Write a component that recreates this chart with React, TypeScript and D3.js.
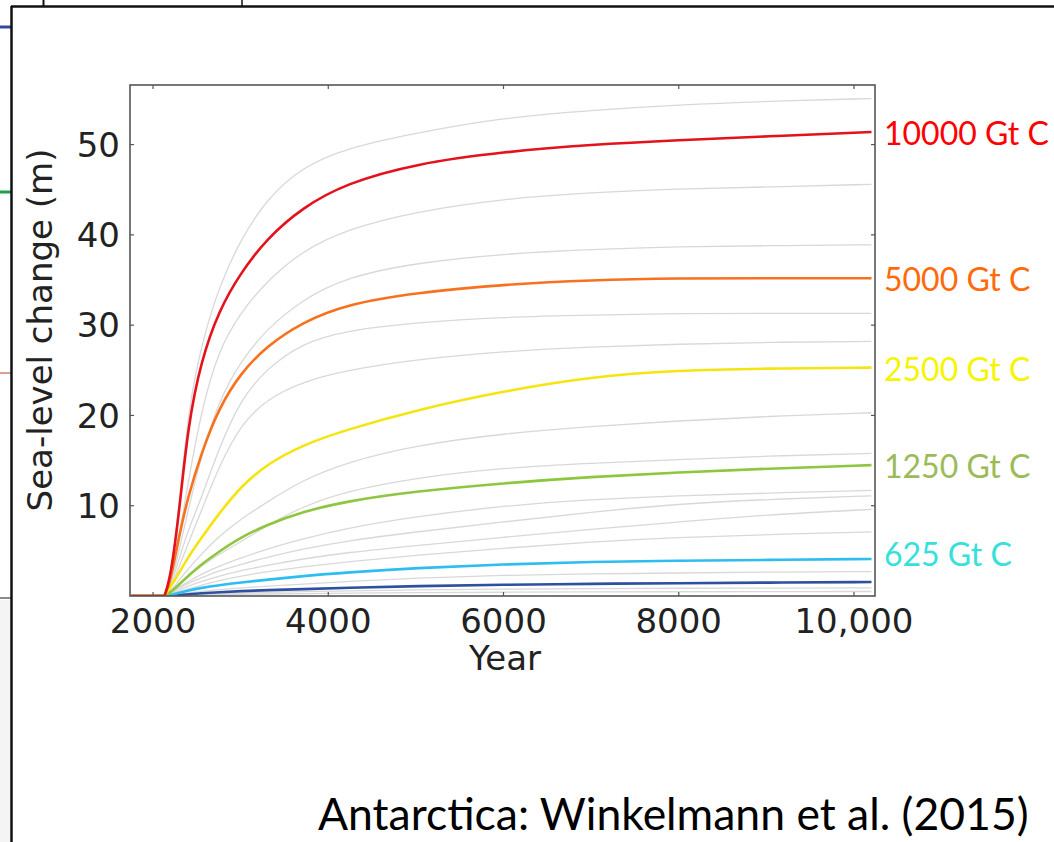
import React from 'react';
import * as d3 from 'd3';

const years = [1750, 2130, 2200, 2300, 2400, 2550, 2750, 3000, 3300, 3700, 4200, 5000, 6000, 7000, 8000, 9000, 10200];

// highlighted emission scenarios (sea-level change, m)
const red10000 = [0, 0, 2.0, 9.4, 19.0, 26.1, 31.6, 35.8, 39.6, 43.0, 45.7, 47.9, 49.2, 50.0, 50.5, 50.9, 51.4];
const orange5000 = [0, 0, 1.6, 6.8, 11.0, 15.8, 20.8, 24.7, 27.7, 30.3, 32.3, 33.6, 34.5, 35.0, 35.2, 35.2, 35.2];
const yellow2500 = [0, 0, 1.0, 2.6, 4.3, 6.4, 9.1, 12.1, 14.6, 16.7, 18.4, 20.6, 22.7, 24.3, 25.0, 25.2, 25.3];
const green1250 = [0, 0, 0.4, 1.3, 2.2, 3.5, 4.9, 6.5, 7.9, 9.3, 10.5, 11.6, 12.5, 13.2, 13.7, 14.1, 14.5];
const cyan625 = [0, 0, 0.1, 0.35, 0.6, 0.9, 1.2, 1.5, 1.8, 2.2, 2.6, 3.1, 3.5, 3.8, 3.9, 4.0, 4.1];
const blueLow = [0, 0, 0.05, 0.1, 0.2, 0.3, 0.4, 0.55, 0.65, 0.75, 0.9, 1.1, 1.25, 1.35, 1.42, 1.48, 1.55];

// the other runs, drawn in light grey
const grayRuns = [
  [0, 0, 2.2, 10.2, 20.5, 27.8, 34.2, 39.5, 44.0, 47.5, 49.6, 51.3, 53.0, 53.8, 54.4, 54.8, 55.1],
  [0, 0, 1.4, 6.8, 12.5, 20.5, 27.3, 31.4, 34.9, 38.2, 40.6, 42.6, 44.0, 44.7, 45.1, 45.3, 45.6],
  [0, 0, 1.1, 5.2, 9.5, 15.5, 21.6, 26.0, 29.6, 32.8, 35.3, 36.9, 37.9, 38.4, 38.7, 38.8, 38.9],
  [0, 0, 1.0, 4.2, 7.3, 10.8, 16.3, 21.8, 25.2, 28.0, 29.4, 30.3, 30.9, 31.1, 31.3, 31.3, 31.3],
  [0, 0, 0.8, 3.3, 5.8, 9.4, 14.3, 19.0, 21.8, 23.7, 25.0, 26.2, 27.1, 27.6, 27.9, 28.1, 28.2],
  [0, 0, 0.5, 1.8, 3.0, 4.6, 6.6, 8.5, 10.4, 12.8, 14.8, 16.7, 18.0, 18.8, 19.4, 19.9, 20.3],
  [0, 0, 0.4, 1.3, 2.2, 3.3, 4.6, 6.0, 7.8, 9.9, 11.6, 13.1, 14.2, 14.7, 15.1, 15.5, 15.8],
  [0, 0, 0.3, 1.0, 1.6, 2.4, 3.3, 4.2, 5.2, 6.3, 7.5, 8.8, 10.0, 10.7, 11.1, 11.4, 11.7],
  [0, 0, 0.3, 0.9, 1.4, 2.0, 2.8, 3.5, 4.3, 5.2, 6.1, 7.1, 8.2, 9.3, 10.2, 10.7, 11.1],
  [0, 0, 0.2, 0.7, 1.1, 1.6, 2.2, 2.8, 3.4, 4.1, 4.8, 5.6, 6.5, 7.4, 8.2, 9.0, 9.6],
  [0, 0, 0.2, 0.5, 0.8, 1.2, 1.7, 2.2, 2.7, 3.2, 3.8, 4.5, 5.3, 6.0, 6.5, 6.8, 7.1],
  [0, 0, 0.1, 0.2, 0.35, 0.5, 0.7, 0.9, 1.1, 1.3, 1.6, 2.0, 2.3, 2.45, 2.55, 2.65, 2.7],
  [0, 0, 0.03, 0.07, 0.12, 0.18, 0.25, 0.32, 0.4, 0.48, 0.57, 0.68, 0.76, 0.82, 0.86, 0.88, 0.9],
  [0, 0, 0.02, 0.04, 0.07, 0.1, 0.14, 0.18, 0.22, 0.27, 0.31, 0.37, 0.42, 0.45, 0.47, 0.49, 0.5],
];

const highlighted = [
  {values: blueLow, color: '#2f4f9f', label: '', labelColor: ''},
  {values: cyan625, color: '#2ebdf0', label: '625 Gt C', labelColor: '#36e0dc'},
  {values: green1250, color: '#8dc63f', label: '1250 Gt C', labelColor: '#9bbb59'},
  {values: yellow2500, color: '#f5e40f', label: '2500 Gt C', labelColor: '#f5f500'},
  {values: orange5000, color: '#f7711f', label: '5000 Gt C', labelColor: '#ff6a0a'},
  {values: red10000, color: '#e3121b', label: '10000 Gt C', labelColor: '#ff0000'},
];

const xTicks = [2000, 4000, 6000, 8000, 10000];
const xTickLabels = ['2000', '4000', '6000', '8000', '10,000'];
const yTicks = [10, 20, 30, 40, 50];

const plot = {left: 130, right: 875, top: 85, bottom: 596};
const axisFont = '"DejaVu Sans", sans-serif';
const slideFont = 'Lato, "Open Sans", sans-serif';

export default function App() {
  const x = d3.scaleLinear().domain([1737, 10240]).range([plot.left, plot.right]);
  const y = d3.scaleLinear().domain([0, 56.6]).range([plot.bottom, plot.top]);

  // flat part before the forcing starts is straight; the response is smoothed
  const flat = d3
    .line<number>()
    .x((_, i) => x(years[i]))
    .y(d => y(d));
  const rise = d3
    .line<number>()
    .x((_, i) => x(years[i + 1]))
    .y(d => y(d))
    .curve(d3.curveBasis);
  const runPath = (v: number[]) => (flat(v.slice(0, 2)) || '') + (rise(v.slice(1)) || '');

  const labelDy = (v: number[]) => (v === cyan625 ? -6 : 0);

  return (
    <svg
      width={1054}
      height={842}
      style={{position: 'absolute', left: 0, top: 0, background: '#fff'}}>
      {/* bits of the slide behind the figure */}
      <rect x={0} y={600} width={10} height={242} fill="#f4f4f4" />
      <line x1={0} x2={11} y1={27} y2={27} stroke="#3346a6" strokeWidth={3} />
      <line x1={0} x2={11} y1={192} y2={192} stroke="#1fa04a" strokeWidth={3} />
      <line x1={0} x2={11} y1={373} y2={373} stroke="#b04030" strokeWidth={1} />
      <line x1={0} x2={11} y1={598} y2={598} stroke="#666" strokeWidth={1.5} />
      <line x1={43.5} x2={43.5} y1={0} y2={6} stroke="#111" strokeWidth={2} />
      <line x1={242} x2={242} y1={0} y2={6} stroke="#111" strokeWidth={1.5} />
      <line x1={11} x2={1054} y1={6.5} y2={6.5} stroke="#111" strokeWidth={2.5} />
      <line x1={11.5} x2={11.5} y1={6} y2={842} stroke="#111" strokeWidth={2.5} />

      <defs>
        <clipPath id="plotClip">
          <rect x={plot.left} y={plot.top} width={plot.right - plot.left} height={plot.bottom - plot.top} />
        </clipPath>
      </defs>

      <g clipPath="url(#plotClip)">
        {grayRuns.map((v, i) => (
          <path key={i} d={runPath(v)} fill="none" stroke="#d8d8d8" strokeWidth={1.3} />
        ))}
        {highlighted.map((s, i) => (
          <path key={i} d={runPath(s.values)} fill="none" stroke={s.color} strokeWidth={2.6} />
        ))}
      </g>

      {/* frame with inward ticks */}
      <rect
        x={plot.left}
        y={plot.top}
        width={plot.right - plot.left}
        height={plot.bottom - plot.top}
        fill="none"
        stroke="#555"
        strokeWidth={1.6}
      />
      {xTicks.map(t => (
        <g key={t}>
          <line x1={x(t)} x2={x(t)} y1={plot.bottom} y2={plot.bottom - 4} stroke="#555" strokeWidth={1.2} />
          <line x1={x(t)} x2={x(t)} y1={plot.top} y2={plot.top + 4} stroke="#555" strokeWidth={1.2} />
        </g>
      ))}
      {yTicks.map(t => (
        <g key={t}>
          <line x1={plot.left} x2={plot.left + 4} y1={y(t)} y2={y(t)} stroke="#555" strokeWidth={1.2} />
          <line x1={plot.right} x2={plot.right - 4} y1={y(t)} y2={y(t)} stroke="#555" strokeWidth={1.2} />
        </g>
      ))}

      {/* tick labels */}
      {xTicks.map((t, i) => (
        <text
          key={t}
          x={x(t)}
          y={633}
          textAnchor="middle"
          fontFamily={axisFont}
          fontSize={34}
          fill="#222">
          {xTickLabels[i]}
        </text>
      ))}
      {yTicks.map(t => (
        <text
          key={t}
          x={120}
          y={y(t)}
          dy="0.36em"
          textAnchor="end"
          fontFamily={axisFont}
          fontSize={34}
          fill="#222">
          {t}
        </text>
      ))}

      <text x={505} y={670} textAnchor="middle" fontFamily={axisFont} fontSize={34} fill="#222">
        Year
      </text>
      <text
        transform="translate(52, 330) rotate(-90)"
        textAnchor="middle"
        fontFamily={axisFont}
        fontSize={34}
        fill="#222">
        Sea-level change (m)
      </text>

      {/* scenario labels at the right end */}
      {highlighted
        .filter(s => s.label)
        .map(s => (
          <text
            key={s.label}
            x={884}
            y={y(s.values[s.values.length - 1]) + labelDy(s.values) + 2}
            dy="0.35em"
            fontFamily={slideFont}
            fontSize={32}
            fill={s.labelColor}>
            {s.label}
          </text>
        ))}

      <text x={318} y={830} fontFamily={slideFont} fontSize={44.5} fill="#000">
        Antarctica: Winkelmann et al. (2015)
      </text>
    </svg>
  );
}
